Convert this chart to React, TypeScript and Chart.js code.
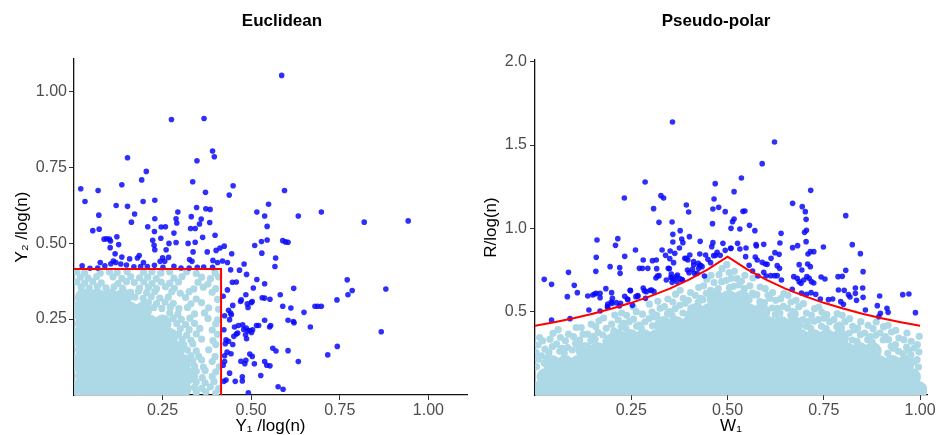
import React, { useEffect, useRef } from 'react';
import { Chart, registerables } from 'chart.js';

Chart.register(...registerables);

// ---------- Euclidean panel data ----------
const EUC_X_TICKS = [0.25, 0.5, 0.75, 1.0];
const EUC_Y_TICKS = [0.25, 0.5, 0.75, 1.0];
const EUC_THRESH_X = [0, 0.415, 0.415];
const EUC_THRESH_Y = [0.415, 0.415, 0];

const EUC_DARK: number[][] = [
  [0.586,1.052],[0.275,0.907],[0.367,0.910],[0.391,0.803],[0.396,0.784],[0.151,0.781],[0.347,0.771],[0.204,0.736],
  [0.191,0.708],[0.335,0.702],[0.135,0.692],[0.449,0.689],[0.019,0.679],[0.068,0.673],[0.594,0.673],[0.438,0.658],
  [0.371,0.667],[0.031,0.637],[0.195,0.637],[0.228,0.641],[0.119,0.624],[0.151,0.621],[0.346,0.617],[0.372,0.613],
  [0.384,0.611],[0.549,0.628],[0.171,0.596],[0.070,0.592],[0.293,0.602],[0.331,0.587],[0.516,0.602],[0.538,0.589],
  [0.633,0.589],[0.698,0.602],[0.228,0.580],[0.288,0.580],[0.359,0.579],[0.290,0.566],[0.162,0.569],[0.208,0.554],
  [0.246,0.553],[0.258,0.554],[0.329,0.548],[0.342,0.548],[0.354,0.563],[0.383,0.568],[0.819,0.569],[0.943,0.573],
  [0.545,0.555],[0.053,0.541],[0.071,0.546],[0.227,0.538],[0.282,0.533],[0.398,0.526],[0.363,0.519],[0.121,0.521],
  [0.085,0.513],[0.092,0.514],[0.100,0.513],[0.103,0.507],[0.222,0.509],[0.245,0.516],[0.288,0.502],[0.268,0.499],
  [0.322,0.499],[0.342,0.503],[0.529,0.505],[0.545,0.510],[0.589,0.508],[0.597,0.504],[0.604,0.503],[0.510,0.492],
  [0.126,0.495],[0.226,0.493],[0.102,0.485],[0.401,0.476],[0.412,0.484],[0.424,0.490],[0.228,0.478],[0.260,0.478],
  [0.336,0.471],[0.376,0.471],[0.530,0.467],[0.445,0.465],[0.569,0.451],[0.116,0.465],[0.074,0.436],[0.135,0.454],
  [0.157,0.448],[0.179,0.451],[0.184,0.459],[0.196,0.436],[0.111,0.441],[0.118,0.436],[0.104,0.432],[0.243,0.440],
  [0.250,0.452],[0.256,0.440],[0.267,0.453],[0.333,0.440],[0.326,0.446],[0.392,0.443],[0.405,0.436],[0.419,0.441],
  [0.433,0.436],[0.480,0.431],[0.567,0.423],[0.023,0.425],[0.045,0.417],[0.067,0.418],[0.087,0.425],[0.132,0.431],
  [0.148,0.428],[0.169,0.422],[0.188,0.423],[0.207,0.423],[0.227,0.427],[0.251,0.420],[0.282,0.424],[0.302,0.418],
  [0.325,0.418],[0.348,0.420],[0.366,0.421],[0.391,0.420],[0.442,0.412],[0.467,0.411],[0.487,0.397],[0.447,0.371],
  [0.458,0.372],[0.516,0.380],[0.538,0.366],[0.506,0.352],[0.433,0.346],[0.553,0.315],[0.531,0.320],[0.538,0.319],
  [0.582,0.330],[0.620,0.351],[0.771,0.379],[0.785,0.344],[0.773,0.330],[0.880,0.349],[0.742,0.313],[0.680,0.292],
  [0.688,0.292],[0.698,0.292],[0.589,0.292],[0.612,0.286],[0.649,0.272],[0.604,0.246],[0.619,0.242],[0.621,0.238],
  [0.667,0.224],[0.867,0.208],[0.743,0.160],[0.716,0.132],[0.633,0.110],[0.604,0.146],[0.561,0.154],[0.570,0.145],
  [0.421,0.325],[0.448,0.295],[0.470,0.308],[0.472,0.313],[0.485,0.330],[0.489,0.300],[0.500,0.304],[0.503,0.308],
  [0.491,0.288],[0.436,0.279],[0.442,0.270],[0.444,0.264],[0.439,0.248],[0.423,0.215],[0.425,0.261],[0.453,0.224],
  [0.464,0.229],[0.476,0.231],[0.479,0.216],[0.486,0.220],[0.491,0.211],[0.496,0.212],[0.501,0.206],[0.504,0.215],
  [0.515,0.229],[0.521,0.229],[0.538,0.246],[0.552,0.224],[0.555,0.229],[0.451,0.193],[0.458,0.201],[0.462,0.204],
  [0.484,0.198],[0.487,0.185],[0.429,0.182],[0.427,0.169],[0.436,0.177],[0.448,0.166],[0.432,0.141],[0.443,0.136],
  [0.425,0.129],[0.471,0.111],[0.485,0.114],[0.482,0.103],[0.496,0.135],[0.503,0.127],[0.509,0.103],[0.425,0.110],
  [0.421,0.098],[0.538,0.110],[0.544,0.098],[0.553,0.096],[0.527,0.064],[0.475,0.060],[0.475,0.046],[0.455,0.045],
  [0.429,0.049],[0.423,0.045],[0.439,0.072],[0.492,0.007],[0.576,0.027],[0.590,0.019]
];

const EUC_LIGHT_CORE: number[][] = [
  [0.01,0.02],[0.047,0.02],[0.084,0.02],[0.121,0.02],[0.158,0.02],[0.195,0.02],[0.232,0.02],[0.269,0.02],[0.306,0.02],
  [0.028,0.063],[0.065,0.063],[0.102,0.063],[0.139,0.063],[0.176,0.063],[0.213,0.063],[0.25,0.063],[0.287,0.063],[0.318,0.063],
  [0.01,0.106],[0.047,0.106],[0.084,0.106],[0.121,0.106],[0.158,0.106],[0.195,0.106],[0.232,0.106],[0.269,0.106],[0.306,0.106],
  [0.028,0.149],[0.065,0.149],[0.102,0.149],[0.139,0.149],[0.176,0.149],[0.213,0.149],[0.25,0.149],[0.287,0.149],
  [0.01,0.192],[0.047,0.192],[0.084,0.192],[0.121,0.192],[0.158,0.192],[0.195,0.192],[0.232,0.192],[0.269,0.192],
  [0.028,0.235],[0.065,0.235],[0.102,0.235],[0.139,0.235],[0.176,0.235],[0.213,0.235],[0.25,0.235],
  [0.01,0.278],[0.047,0.278],[0.084,0.278],[0.121,0.278],[0.158,0.278],[0.195,0.278],
  [0.028,0.321],[0.065,0.321],[0.102,0.321],[0.139,0.321]
];

const EUC_LIGHT: number[][] = [
  [0.008,0.405],[0.03,0.402],[0.074,0.401],[0.1,0.405],[0.122,0.403],[0.15,0.406],[0.196,0.404],
  [0.22,0.406],[0.245,0.401],[0.27,0.405],[0.318,0.406],[0.345,0.4],[0.398,0.402],
  [0.018,0.388],[0.04,0.385],[0.064,0.39],[0.11,0.389],[0.135,0.384],[0.16,0.39],[0.185,0.386],[0.208,0.388],
  [0.232,0.383],[0.282,0.385],[0.305,0.39],[0.36,0.388],[0.385,0.383],[0.408,0.389],
  [0.008,0.372],[0.03,0.368],[0.053,0.373],[0.077,0.369],[0.124,0.367],[0.148,0.373],[0.17,0.37],[0.197,0.372],
  [0.22,0.367],[0.246,0.372],[0.27,0.368],[0.295,0.372],[0.35,0.371],[0.378,0.365],
  [0.02,0.355],[0.043,0.352],[0.066,0.357],[0.09,0.353],[0.113,0.356],[0.137,0.351],[0.185,0.352],[0.21,0.355],
  [0.233,0.35],[0.258,0.356],[0.283,0.351],[0.338,0.349],[0.365,0.355],[0.4,0.35],
  [0.16,0.338],[0.182,0.342],[0.205,0.337],[0.228,0.341],[0.276,0.34],[0.3,0.335],[0.325,0.34],[0.39,0.338],
  [0.172,0.322],[0.195,0.318],[0.218,0.323],[0.242,0.319],[0.266,0.322],[0.315,0.321],[0.345,0.316],[0.405,0.315],
  [0.21,0.305],[0.233,0.301],[0.257,0.306],[0.28,0.302],[0.33,0.3],[0.36,0.304],
  [0.225,0.288],[0.248,0.285],[0.272,0.289],[0.296,0.284],[0.32,0.288],[0.38,0.287],[0.408,0.282],
  [0.27,0.27],[0.293,0.266],[0.34,0.267],[0.368,0.27],
  [0.28,0.252],[0.303,0.249],[0.327,0.253],[0.378,0.252],[0.405,0.247],
  [0.29,0.235],[0.315,0.232],[0.34,0.236],[0.4,0.234],
  [0.3,0.218],[0.325,0.215],[0.355,0.219],[0.39,0.214],
  [0.295,0.2],[0.318,0.197],[0.345,0.201],[0.405,0.2],
  [0.305,0.183],[0.33,0.18],[0.36,0.184],[0.392,0.179],
  [0.31,0.165],[0.335,0.168],[0.4,0.166],
  [0.32,0.148],[0.345,0.145],[0.38,0.149],
  [0.33,0.13],[0.352,0.127],[0.398,0.126],
  [0.335,0.112],[0.36,0.115],[0.39,0.11],
  [0.34,0.095],[0.365,0.092],[0.41,0.093],
  [0.345,0.078],[0.37,0.081],[0.4,0.076],
  [0.34,0.06],[0.362,0.057],[0.39,0.061],
  [0.345,0.043],[0.37,0.04],[0.395,0.044],
  [0.34,0.025],[0.36,0.022],[0.385,0.027],[0.408,0.021],
  [0.345,0.008],[0.372,0.01],[0.4,0.006]
];

// ---------- Pseudo-polar panel data ----------
const POL_X_TICKS = [0.25, 0.5, 0.75, 1.0];
const POL_Y_TICKS = [0.5, 1.0, 1.5, 2.0];
const POL_CURVE_W = [0, 0.05, 0.1, 0.15, 0.2, 0.25, 0.3, 0.35, 0.4, 0.45, 0.5, 0.55, 0.6, 0.65, 0.7, 0.75, 0.8, 0.85, 0.9, 0.95, 1.0];
const POL_CURVE_R = [0.415, 0.437, 0.461, 0.488, 0.519, 0.553, 0.593, 0.638, 0.692, 0.755, 0.83, 0.755, 0.692, 0.638, 0.593, 0.553, 0.519, 0.488, 0.461, 0.437, 0.415];

const POL_DARK: number[][] = [
  [0.357,1.638],[0.622,1.518],[0.590,1.388],[0.536,1.302],[0.286,1.278],[0.468,1.268],[0.716,1.228],[0.517,1.220],
  [0.327,1.196],[0.334,1.182],[0.232,1.182],[0.465,1.176],[0.669,1.150],[0.393,1.140],[0.694,1.130],[0.477,1.126],
  [0.462,1.116],[0.308,1.118],[0.807,1.076],[0.399,1.098],[0.702,1.100],[0.494,1.100],[0.540,1.102],[0.545,1.104],
  [0.517,1.056],[0.513,1.040],[0.704,1.054],[0.322,1.036],[0.356,1.038],[0.461,1.028],[0.557,1.018],[0.509,1.000],
  [0.532,0.996],[0.571,0.986],[0.705,0.988],[0.377,0.986],[0.358,0.964],[0.700,0.976],[0.639,0.970],[0.381,0.936],
  [0.161,0.930],[0.215,0.938],[0.401,0.950],[0.358,0.918],[0.429,0.922],[0.384,0.914],[0.462,0.914],[0.488,0.910],
  [0.526,0.910],[0.594,0.904],[0.704,0.920],[0.824,0.902],[0.209,0.898],[0.636,0.912],[0.574,0.902],[0.330,0.870],
  [0.261,0.870],[0.375,0.882],[0.351,0.864],[0.459,0.890],[0.509,0.880],[0.548,0.882],[0.159,0.826],[0.402,0.840],
  [0.428,0.846],[0.469,0.838],[0.481,0.838],[0.494,0.868],[0.572,0.828],[0.233,0.832],[0.339,0.838],[0.363,0.850],
  [0.305,0.806],[0.315,0.810],[0.281,0.810],[0.389,0.820],[0.397,0.810],[0.412,0.800],[0.424,0.790],[0.434,0.770],
  [0.425,0.760],[0.350,0.818],[0.577,0.810],[0.590,0.796],[0.598,0.786],[0.024,0.694],[0.043,0.664],[0.043,0.450],
  [0.087,0.736],[0.084,0.590],[0.102,0.658],[0.110,0.614],[0.091,0.458],[0.137,0.594],[0.140,0.510],[0.150,0.600],
  [0.155,0.606],[0.159,0.610],[0.158,0.742],[0.169,0.610],[0.169,0.584],[0.184,0.638],[0.189,0.546],[0.188,0.530],
  [0.198,0.558],[0.195,0.770],[0.199,0.614],[0.201,0.580],[0.211,0.554],[0.219,0.534],[0.220,0.764],[0.221,0.730],
  [0.233,0.592],[0.241,0.572],[0.247,0.628],[0.262,0.590],[0.267,0.592],[0.271,0.760],[0.281,0.642],[0.284,0.626],
  [0.287,0.580],[0.293,0.760],[0.303,0.630],[0.309,0.620],[0.316,0.758],[0.322,0.716],[0.314,0.702],[0.349,0.758],
  [0.354,0.726],[0.353,0.706],[0.341,0.690],[0.356,0.676],[0.361,0.694],[0.369,0.678],[0.376,0.698],[0.360,0.794],
  [0.383,0.688],[0.396,0.750],[0.414,0.730],[0.430,0.778],[0.409,0.754],[0.449,0.814],[0.456,0.794],[0.473,0.856],
  [0.464,0.836],[0.370,0.720],[0.382,0.692],[0.400,0.734],[0.421,0.730],[0.440,0.714],[0.428,0.776],[0.443,0.840],
  [0.412,0.780],[0.393,0.820],[0.346,0.760],[0.356,0.700],[0.367,0.710],[0.318,0.714],[0.279,0.760],[0.222,0.550],
  [0.240,0.576],[0.248,0.626],[0.267,0.596],[0.289,0.620],[0.299,0.628],[0.253,0.538],[0.189,0.530],[0.169,0.504],
  [0.200,0.550],[0.556,0.778],[0.565,0.744],[0.579,0.714],[0.594,0.736],[0.547,0.830],[0.508,0.880],[0.532,0.876],
  [0.575,0.894],
  [0.603,0.784],[0.613,0.820],[0.623,0.854],[0.634,0.844],[0.600,0.714],[0.612,0.716],[0.622,0.716],[0.629,0.716],
  [0.640,0.690],[0.629,0.776],[0.635,0.760],[0.669,0.884],[0.682,0.896],[0.672,0.710],[0.681,0.700],[0.686,0.782],
  [0.693,0.750],[0.698,0.690],[0.706,0.710],[0.712,0.700],[0.718,0.680],[0.724,0.672],[0.686,0.680],[0.691,0.670],
  [0.668,0.634],[0.692,0.612],[0.705,0.604],[0.717,0.614],[0.729,0.604],[0.741,0.576],[0.762,0.572],[0.773,0.576],
  [0.709,0.846],[0.715,0.860],[0.724,0.860],[0.708,0.786],[0.715,0.770],[0.749,0.888],[0.743,0.708],[0.753,0.696],
  [0.787,0.710],[0.798,0.712],[0.807,0.748],[0.788,0.630],[0.803,0.628],[0.832,0.642],[0.851,0.642],[0.832,0.610],
  [0.814,0.602],[0.818,0.588],[0.835,0.568],[0.852,0.586],[0.794,0.560],[0.801,0.544],[0.845,0.848],[0.852,0.740],
  [0.895,0.594],[0.889,0.536],[0.858,0.510],[0.914,0.520],[0.917,0.496],[0.897,0.490],[0.893,0.470],[0.955,0.602],
  [0.971,0.606],[0.988,0.494]
];

const POL_LIGHT_CORE: number[][] = [
  [0.01,0.03],[0.044,0.03],[0.078,0.03],[0.112,0.03],[0.146,0.03],[0.18,0.03],[0.214,0.03],[0.248,0.03],[0.282,0.03],[0.316,0.03],
  [0.35,0.03],[0.384,0.03],[0.418,0.03],[0.452,0.03],[0.486,0.03],[0.52,0.03],[0.554,0.03],[0.588,0.03],[0.622,0.03],[0.656,0.03],
  [0.69,0.03],[0.724,0.03],[0.758,0.03],[0.792,0.03],[0.826,0.03],[0.86,0.03],[0.894,0.03],[0.928,0.03],[0.962,0.03],[0.996,0.03],
  [0.027,0.108],[0.061,0.108],[0.095,0.108],[0.129,0.108],[0.163,0.108],[0.197,0.108],[0.231,0.108],[0.265,0.108],[0.299,0.108],
  [0.333,0.108],[0.367,0.108],[0.401,0.108],[0.435,0.108],[0.469,0.108],[0.503,0.108],[0.537,0.108],[0.571,0.108],[0.605,0.108],
  [0.639,0.108],[0.673,0.108],[0.707,0.108],[0.741,0.108],[0.775,0.108],[0.809,0.108],[0.843,0.108],[0.877,0.108],[0.911,0.108],
  [0.945,0.108],[0.979,0.108],
  [0.044,0.186],[0.078,0.186],[0.112,0.186],[0.146,0.186],[0.18,0.186],[0.214,0.186],[0.248,0.186],[0.282,0.186],[0.316,0.186],
  [0.35,0.186],[0.384,0.186],[0.418,0.186],[0.452,0.186],[0.486,0.186],[0.52,0.186],[0.554,0.186],[0.588,0.186],[0.622,0.186],
  [0.656,0.186],[0.69,0.186],[0.724,0.186],[0.758,0.186],[0.792,0.186],[0.826,0.186],[0.86,0.186],[0.894,0.186],[0.928,0.186],[0.962,0.186],
  [0.129,0.264],[0.163,0.264],[0.197,0.264],[0.231,0.264],[0.265,0.264],[0.299,0.264],[0.333,0.264],[0.367,0.264],[0.401,0.264],
  [0.435,0.264],[0.469,0.264],[0.503,0.264],[0.537,0.264],[0.571,0.264],[0.605,0.264],[0.639,0.264],[0.673,0.264],[0.707,0.264],
  [0.741,0.264],[0.775,0.264],[0.809,0.264],[0.843,0.264],[0.877,0.264],
  [0.214,0.342],[0.248,0.342],[0.282,0.342],[0.316,0.342],[0.35,0.342],[0.384,0.342],[0.418,0.342],[0.452,0.342],[0.486,0.342],
  [0.52,0.342],[0.554,0.342],[0.588,0.342],[0.622,0.342],[0.656,0.342],[0.69,0.342],[0.724,0.342],[0.758,0.342],[0.792,0.342],
  [0.333,0.42],[0.367,0.42],[0.401,0.42],[0.435,0.42],[0.469,0.42],[0.503,0.42],[0.537,0.42],[0.571,0.42],[0.605,0.42],[0.639,0.42],[0.673,0.42],
  [0.418,0.498],[0.452,0.498],[0.486,0.498],[0.52,0.498],[0.554,0.498],[0.588,0.498],
  [0.469,0.576],[0.503,0.576],[0.537,0.576]
];

const POL_LIGHT: number[][] = [
  [0.004,0.17],[0.009,0.215],[0.003,0.255],[0.008,0.30],[0.012,0.345],
  [0.024,0.19],[0.017,0.235],[0.026,0.275],[0.02,0.325],
  [0.036,0.255],[0.045,0.29],[0.039,0.335],[0.047,0.37],
  [0.064,0.262],[0.056,0.305],[0.066,0.345],[0.06,0.392],
  [0.076,0.25],[0.085,0.285],[0.079,0.325],[0.087,0.365],
  [0.097,0.27],[0.105,0.31],[0.1,0.35],[0.107,0.405],
  [0.116,0.33],[0.125,0.365],[0.12,0.405],
  [0.145,0.325],[0.137,0.365],[0.146,0.425],
  [0.156,0.335],[0.164,0.375],[0.158,0.41],[0.166,0.445],
  [0.184,0.32],[0.176,0.36],[0.185,0.4],[0.178,0.462],
  [0.196,0.345],[0.205,0.385],[0.199,0.425],[0.207,0.48],
  [0.224,0.41],[0.216,0.45],[0.225,0.492],
  [0.236,0.4],[0.245,0.44],[0.238,0.478],
  [0.264,0.412],[0.256,0.455],[0.263,0.5],[0.255,0.53],
  [0.276,0.4],[0.285,0.438],[0.279,0.485],
  [0.305,0.415],[0.296,0.458],[0.304,0.498],[0.297,0.545],
  [0.316,0.48],[0.325,0.52],[0.319,0.562],
  [0.344,0.488],[0.336,0.53],[0.345,0.576],
  [0.356,0.478],[0.364,0.518],[0.358,0.558],[0.365,0.605],
  [0.384,0.492],[0.376,0.538],[0.385,0.58],[0.377,0.628],
  [0.396,0.482],[0.405,0.522],[0.398,0.568],[0.404,0.615],
  [0.424,0.556],[0.416,0.598],[0.425,0.645],
  [0.436,0.572],[0.445,0.61],[0.438,0.655],[0.446,0.695],
  [0.464,0.585],[0.456,0.628],[0.465,0.675],[0.457,0.718],
  [0.476,0.638],[0.485,0.68],[0.478,0.722],[0.486,0.758],
  [0.505,0.645],[0.497,0.688],[0.504,0.735],[0.498,0.782],
  [0.516,0.652],[0.525,0.698],[0.518,0.742],
  [0.544,0.638],[0.536,0.682],[0.545,0.718],
  [0.556,0.572],[0.565,0.612],[0.558,0.655],[0.566,0.702],
  [0.584,0.56],[0.576,0.602],[0.585,0.648],
  [0.596,0.555],[0.605,0.598],[0.598,0.638],
  [0.624,0.482],[0.616,0.522],[0.625,0.568],[0.617,0.615],
  [0.636,0.492],[0.645,0.532],[0.638,0.578],[0.646,0.608],
  [0.664,0.478],[0.656,0.52],[0.665,0.558],[0.657,0.598],
  [0.676,0.488],[0.685,0.53],[0.678,0.568],
  [0.704,0.412],[0.696,0.452],[0.705,0.492],[0.697,0.548],
  [0.716,0.4],[0.725,0.442],[0.718,0.478],[0.726,0.518],
  [0.744,0.412],[0.736,0.452],[0.745,0.498],[0.737,0.528],
  [0.756,0.398],[0.765,0.44],[0.758,0.482],
  [0.784,0.41],[0.776,0.452],[0.785,0.488],
  [0.796,0.402],[0.805,0.44],[0.798,0.478],
  [0.824,0.33],[0.816,0.372],[0.825,0.412],[0.817,0.458],
  [0.836,0.322],[0.845,0.362],[0.838,0.402],[0.846,0.44],
  [0.864,0.332],[0.856,0.372],[0.865,0.418],
  [0.876,0.318],[0.885,0.358],[0.878,0.398],[0.886,0.438],
  [0.904,0.33],[0.896,0.372],[0.905,0.41],
  [0.916,0.25],[0.925,0.292],[0.918,0.332],[0.926,0.378],[0.917,0.418],
  [0.944,0.262],[0.936,0.302],[0.945,0.342],[0.937,0.388],
  [0.956,0.248],[0.965,0.288],[0.958,0.332],[0.966,0.372],
  [0.984,0.2],[0.976,0.242],[0.985,0.282],[0.977,0.322],
  [0.996,0.168],[0.992,0.212],[0.997,0.258],[0.993,0.302],[0.998,0.352],
  [0.11,0.30],[0.19,0.34],[0.27,0.42],[0.35,0.50],[0.43,0.58],[0.47,0.62],[0.53,0.66],[0.57,0.60],[0.63,0.52],
  [0.71,0.44],[0.79,0.42],[0.87,0.35],[0.93,0.28],[0.03,0.22],[0.07,0.28],[0.15,0.35],[0.23,0.43],[0.31,0.47],
  [0.39,0.55],[0.51,0.70],[0.61,0.58],[0.67,0.50],[0.75,0.46],[0.83,0.39],[0.91,0.35],[0.97,0.27]
];

// ---------- helpers ----------
const FONT = '"Liberation Sans", Arial, Helvetica, sans-serif';
const DARK = 'rgba(10,10,250,0.85)';
const LIGHT = '#ADD8E6';

const toXY = (pts: number[][]) => pts.map(p => ({ x: p[0], y: p[1] }));
const zipXY = (xs: number[], ys: number[]) => xs.map((x, i) => ({ x, y: ys[i] }));

const panelTitle = {
  id: 'panelTitle',
  afterDraw(chart: any, _args: any, opts: any) {
    const ctx = chart.ctx;
    ctx.save();
    ctx.font = `bold ${opts.size}px ${FONT}`;
    ctx.fillStyle = '#000';
    ctx.textAlign = 'center';
    ctx.textBaseline = 'middle';
    ctx.fillText(opts.text, opts.x, opts.y);
    ctx.restore();
  },
};

function axis(opts: {
  min: number; max: number; ticks: number[]; digits: number; title: string;
  horizontal: boolean; size: number; titlePad: any; labelPad: number;
}) {
  return {
    type: 'linear' as const,
    min: opts.min,
    max: opts.max,
    afterBuildTicks: (s: any) => { s.ticks = opts.ticks.map(v => ({ value: v })); },
    afterFit: (s: any) => {
      if (opts.horizontal) { s.height = opts.size; s.paddingLeft = 0; s.paddingRight = 0; }
      else { s.width = opts.size; s.paddingTop = 0; s.paddingBottom = 0; }
    },
    ticks: {
      font: { family: FONT, size: 16 },
      color: '#4D4D4D',
      padding: opts.labelPad,
      autoSkip: false,
      maxRotation: 0,
      callback: (v: any) => Number(v).toFixed(opts.digits),
    },
    grid: { display: true, drawOnChartArea: false, drawTicks: true, tickLength: 5, tickColor: '#333', tickWidth: 1 },
    border: { display: true, color: '#111', width: 1.3 },
    title: { display: true, text: opts.title, color: '#000', font: { family: FONT, size: 17 }, padding: opts.titlePad },
  };
}

function pointSet(data: any[], color: string, r: number) {
  return { type: 'scatter' as const, data, pointRadius: r, pointBackgroundColor: color, pointBorderWidth: 0, backgroundColor: color, borderColor: color, showLine: false, clip: 0 };
}

export default function App() {
  const leftRef = useRef<HTMLCanvasElement>(null);
  const rightRef = useRef<HTMLCanvasElement>(null);

  useEffect(() => {
    const left = new Chart(leftRef.current as HTMLCanvasElement, {
      type: 'scatter',
      data: {
        datasets: [
          { type: 'scatter', data: zipXY(EUC_THRESH_X, EUC_THRESH_Y), showLine: true, borderColor: 'red', borderWidth: 2, pointRadius: 0, fill: false, tension: 0, clip: 0 } as any,
          pointSet(toXY(EUC_DARK), DARK, 2.8),
          pointSet(toXY(EUC_LIGHT), LIGHT, 3.6),
          pointSet(toXY(EUC_LIGHT_CORE), LIGHT, 9),
        ],
      },
      options: {
        animation: false,
        responsive: false,
        events: [],
        layout: { autoPadding: false, padding: { left: 0, top: 59, right: 1, bottom: 0 } },
        plugins: { legend: { display: false }, tooltip: { enabled: false }, panelTitle: { text: 'Euclidean', x: 282, y: 21, size: 17 } } as any,
        scales: {
          x: axis({ min: 0, max: 1.109, ticks: EUC_X_TICKS, digits: 2, title: 'Y₁ /log(n)', horizontal: true, size: 40, titlePad: { top: 0, bottom: -2 }, labelPad: 1 }),
          y: axis({ min: 0, max: 1.106, ticks: EUC_Y_TICKS, digits: 2, title: 'Y₂ /log(n)', horizontal: false, size: 74, titlePad: { top: 12, bottom: 0 }, labelPad: 2 }),
        } as any,
      },
      plugins: [panelTitle],
    });

    const right = new Chart(rightRef.current as HTMLCanvasElement, {
      type: 'scatter',
      data: {
        datasets: [
          { type: 'scatter', data: zipXY(POL_CURVE_W, POL_CURVE_R), showLine: true, borderColor: 'red', borderWidth: 2, pointRadius: 0, fill: false, tension: 0, clip: 0 } as any,
          pointSet(toXY(POL_DARK), DARK, 2.8),
          pointSet(toXY(POL_LIGHT), LIGHT, 3.6),
          pointSet(toXY(POL_LIGHT_CORE), LIGHT, 9),
        ],
      },
      options: {
        animation: false,
        responsive: false,
        events: [],
        layout: { autoPadding: false, padding: { left: 0, top: 60, right: 9, bottom: 0 } },
        plugins: { legend: { display: false }, tooltip: { enabled: false }, panelTitle: { text: 'Pseudo-polar', x: 248, y: 21, size: 17 } } as any,
        scales: {
          x: axis({ min: 0, max: 1.018, ticks: POL_X_TICKS, digits: 2, title: 'W₁', horizontal: true, size: 40, titlePad: { top: 0, bottom: -2 }, labelPad: 1 }),
          y: axis({ min: 0, max: 2.01, ticks: POL_Y_TICKS, digits: 1, title: 'R/log(n)', horizontal: false, size: 67, titlePad: { top: 13, bottom: 0 }, labelPad: 3 }),
        } as any,
      },
      plugins: [panelTitle],
    });

    return () => { left.destroy(); right.destroy(); };
  }, []);

  return (
    <div style={{ position: 'fixed', left: 0, top: 0, width: 936, height: 435, background: '#fff' }}>
      <canvas ref={leftRef} width={468} height={435} style={{ position: 'absolute', left: 0, top: 0, width: 468, height: 435 }} />
      <canvas ref={rightRef} width={468} height={435} style={{ position: 'absolute', left: 468, top: 0, width: 468, height: 435 }} />
    </div>
  );
}
